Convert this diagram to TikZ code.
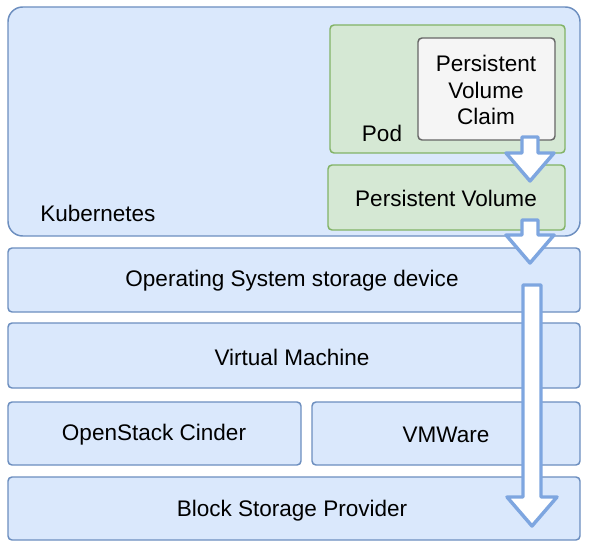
\documentclass[tikz,border=0pt]{standalone}
\usepackage{fontspec}
\setmainfont{Liberation Sans}
\usetikzlibrary{fit}
\definecolor{bfill}{HTML}{DAE8FC}
\definecolor{bline}{HTML}{6C8EBF}
\definecolor{gfill}{HTML}{D5E8D4}
\definecolor{gline}{HTML}{82B366}
\definecolor{pfill}{HTML}{F5F5F5}
\definecolor{pline}{HTML}{666666}
\definecolor{aline}{HTML}{7EA6E0}
\tikzset{
  layer/.style={draw=bline, fill=bfill, line width=1.1pt, rounded corners=3pt, inner sep=0pt},
  kbox/.style={draw=bline, fill=bfill, line width=1.1pt, rounded corners=11pt, inner sep=0pt},
  gbox/.style={draw=gline, fill=gfill, line width=1.1pt, rounded corners=3pt, inner sep=0pt},
  pbox/.style={draw=pline, fill=pfill, line width=1.1pt, rounded corners=3pt, inner sep=0pt},
  txt/.style={font=\fontsize{16.9}{19.8}\selectfont, text=black, align=center, inner sep=0pt},
  barrow/.style={draw=aline, fill=white, line width=2.6pt, line join=round}
}
\begin{document}
\begin{tikzpicture}[x=0.75pt, y=-0.75pt]
\useasboundingbox (0,0) rectangle (589,556);
% Kubernetes
\node[kbox, fit={(8,7) (580,236)}] (kube) {};
\node[txt, anchor=west] (kubet) at (40,213) {Kubernetes};
% Pod
\node[gbox, fit={(330,25) (565,153)}] (pod) {};
\node[txt] (podt) at (382,133) {Pod};
% PVC
\node[pbox, fit={(418,38) (555,140)}] (pvc) {};
\node[txt] (pvct) at (486,90) {Persistent\\Volume\\Claim};
% PV
\node[gbox, fit={(328,165) (565,230)}] (pv) {};
\node[txt] (pvt) at (446,198) {Persistent Volume};
% Layers
\node[layer, fit={(8,248) (580,312)}] (os) {};
\node[txt] (ost) at (292,281) {Operating System storage device};
\node[layer, fit={(8,323) (580,388)}] (vm) {};
\node[txt] (vmt) at (292,357) {Virtual Machine};
\node[layer, fit={(8,402) (301,465)}] (cinder) {};
\node[txt] (cindert) at (154,435) {OpenStack Cinder};
\node[layer, fit={(312,402) (580,465)}] (vmw) {};
\node[txt] (vmwt) at (446,435) {VMWare};
\node[layer, fit={(8,477) (580,540)}] (bsp) {};
\node[txt] (bspt) at (292,511) {Block Storage Provider};
% Block arrows
\draw[barrow] (522,137) -- (522,153) -- (506,153) -- (530,181) -- (554,153) -- (538,153) -- (538,137) -- cycle;
\draw[barrow] (522,220) -- (522,235) -- (506,235) -- (530,263) -- (554,235) -- (538,235) -- (538,220) -- cycle;
\draw[barrow] (523,285) -- (523,497) -- (507,497) -- (532,526) -- (557,497) -- (541,497) -- (541,285) -- cycle;
\end{tikzpicture}
\end{document}
